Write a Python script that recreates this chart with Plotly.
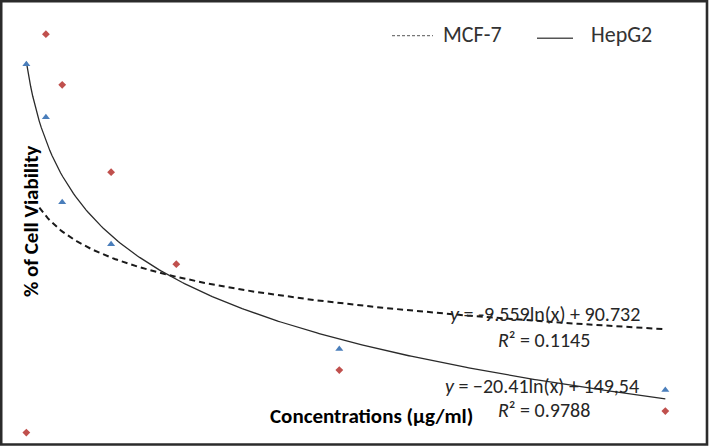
import numpy as np
import plotly.graph_objects as go

# concentrations (µg/ml)
conc_hepg2 = [4, 10, 15, 30, 100, 200]
viab_hepg2 = [120.7, 108.1, 88.0, 78.0, 53.2, 43.5]

conc_mcf7 = [4, 10, 15, 30, 50, 100, 200]
viab_mcf7 = [33.4, 127.8, 115.8, 95.1, 73.3, 48.2, 38.5]

# trendline coefficients (slope, intercept) of y = a*ln(x) + b, as drawn
hepg2_fit = [-20.41, 149.54]
mcf7_fit_drawn = [-8.95, 105.3]
mcf7_x_start = 8

eq_mcf7 = "<i>y</i> = -9.559ln(x) + 90.732"
r2_mcf7 = "<i>R</i>\u00b2 = 0.1145"
eq_hepg2 = "<i>y</i> = \u221220.41ln(x) + 149,54"
r2_hepg2 = "<i>R</i>\u00b2 = 0.9788"

W, H = 709, 448
FONT = "Carlito, Lato, sans-serif"

xs_h = np.linspace(min(conc_hepg2), max(conc_hepg2), 300)
ys_h = hepg2_fit[0] * np.log(xs_h) + hepg2_fit[1]
xs_m = np.linspace(mcf7_x_start, max(conc_mcf7), 300)
ys_m = mcf7_fit_drawn[0] * np.log(xs_m) + mcf7_fit_drawn[1]

fig = go.Figure()
fig.add_trace(go.Scatter(x=xs_m, y=ys_m, mode="lines",
                         line=dict(color="#1a1a1a", width=2, dash="6px,4px"),
                         showlegend=False, hoverinfo="skip"))
fig.add_trace(go.Scatter(x=xs_h, y=ys_h, mode="lines",
                         line=dict(color="#2a2a2a", width=1.3),
                         showlegend=False, hoverinfo="skip"))
fig.add_trace(go.Scatter(x=conc_hepg2, y=viab_hepg2, mode="markers", name="HepG2",
                         marker=dict(symbol="triangle-up", size=7, color="#4a7ebb"),
                         showlegend=False))
fig.add_trace(go.Scatter(x=conc_mcf7, y=viab_mcf7, mode="markers", name="MCF-7",
                         marker=dict(symbol="diamond", size=6, color="#c0504d"),
                         showlegend=False))


def px(x):
    return x / W


def py(y):
    return 1 - y / H


anns = []


def text(x, y, s, size, bold=False, angle=0, color="#262626"):
    anns.append(dict(x=px(x), y=py(y), xref="paper", yref="paper", text=s,
                     showarrow=False, textangle=angle,
                     font=dict(family=FONT, size=size, color=color,
                               weight="bold" if bold else "normal"),
                     xanchor="center", yanchor="middle"))


text(31, 222, "% of Cell Viability", 21, bold=True, angle=-90, color="#000")
text(371, 416, "Concentrations (\u00b5g/ml)", 21, bold=True, color="#000")
text(472, 34.5, "MCF-7", 22, color="#333")
text(621.5, 34.5, "HepG2", 22, color="#333")
text(545, 314, eq_mcf7, 20)
text(543.5, 340, r2_mcf7, 20)
text(541.5, 386, eq_hepg2, 20)
text(543.5, 410, r2_hepg2, 20)

shapes = [
    dict(type="line", xref="paper", yref="paper", x0=px(392), x1=px(433),
         y0=py(35.7), y1=py(35.7), line=dict(color="#777", width=1.2, dash="3px,2px")),
    dict(type="line", xref="paper", yref="paper", x0=px(537), x1=px(573),
         y0=py(38.3), y1=py(38.3), line=dict(color="#555", width=1.6)),
    dict(type="rect", xref="paper", yref="paper", x0=px(1.2), x1=px(707),
         y0=py(444.5), y1=py(1.2), line=dict(color="#2b2b2b", width=2.6)),
]

fig.update_layout(
    width=W, height=H,
    margin=dict(l=0, r=0, t=0, b=0),
    paper_bgcolor="white", plot_bgcolor="white",
    xaxis=dict(range=[-4.08, 213.4], visible=False),
    yaxis=dict(range=[29.74, 135.9], visible=False),
    annotations=anns, shapes=shapes,
    showlegend=False,
)

fig.write_html("out.html", config={"displayModeBar": False},
               post_script="document.body.style.margin='0';")
